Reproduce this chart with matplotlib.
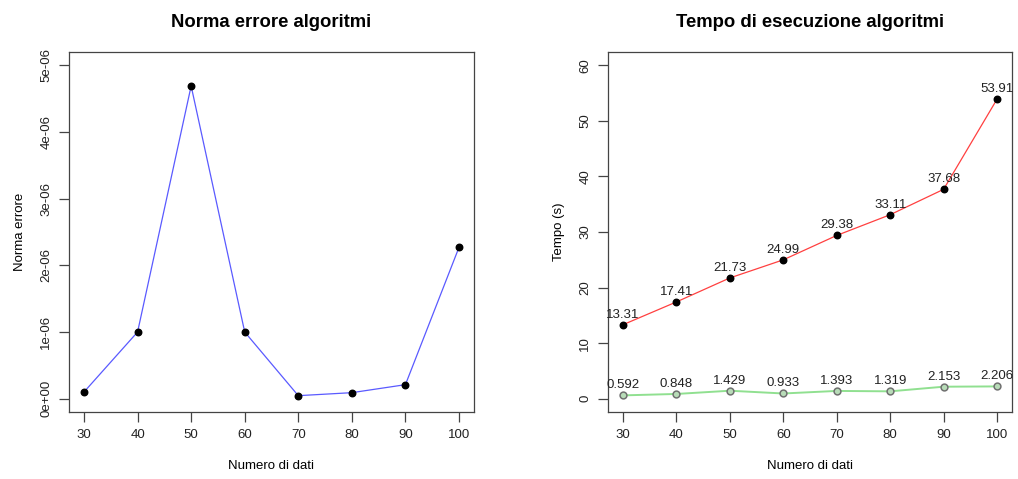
import matplotlib
matplotlib.use('Agg')
from matplotlib import pyplot as plt

plt.rcParams['font.family'] = ['Liberation Sans', 'DejaVu Sans']

n_dati = [30, 40, 50, 60, 70, 80, 90, 100]
norma_errore = [1.0e-7, 1.0e-6, 4.69e-6, 1.0e-6, 4.5e-8, 9.0e-8, 2.1e-7, 2.27e-6]
tempo_lento = [13.31, 17.41, 21.73, 24.99, 29.38, 33.11, 37.68, 53.91]
tempo_veloce = [0.592, 0.848, 1.429, 0.933, 1.393, 1.319, 2.153, 2.206]
err_ticks = [0, 1e-6, 2e-6, 3e-6, 4e-6, 5e-6]
err_labels = ['0e+00', '1e-06', '2e-06', '3e-06', '4e-06', '5e-06']
tempo_ticks = [0, 10, 20, 30, 40, 50, 60]


def r_lim(lo, hi):
    d = (hi - lo) * 0.04
    return lo - d, hi + d


def r_style(ax):
    for s in ax.spines.values():
        s.set_color('#444444')
        s.set_linewidth(0.9)
    ax.tick_params(direction='out', length=7, width=0.9, color='#444444',
                   labelsize=9.5, labelcolor='#222222', pad=5)
    ax.set_xlim(*r_lim(30, 100))
    ax.set_xticks(n_dati)


fig = plt.figure(figsize=(10.18, 4.79), dpi=100)
W, H = 1018, 479

ax1 = fig.add_axes([69 / W, 1 - 412 / H, (474 - 69) / W, (412 - 52) / H])
ax1.plot(n_dati, norma_errore, color='#5a5aff', linewidth=0.9, zorder=2)
ax1.scatter(n_dati, norma_errore, s=22, color='black', zorder=3)
r_style(ax1)
ax1.set_ylim(*r_lim(0, 5e-6))
ax1.set_yticks(err_ticks)
ax1.set_yticklabels(err_labels, rotation=90, va='center')
ax1.set_title('Norma errore algoritmi', fontsize=13.3, fontweight='bold', pad=18)
ax1.set_xlabel('Numero di dati', fontsize=9.5, labelpad=14)
ax1.set_ylabel('Norma errore', fontsize=9.5, labelpad=10)

ax2 = fig.add_axes([608 / W, 1 - 412 / H, (1012 - 608) / W, (412 - 52) / H])
ax2.plot(n_dati, tempo_lento, color='#ff4040', linewidth=0.9, zorder=2)
ax2.scatter(n_dati, tempo_lento, s=22, color='black', zorder=3)
ax2.plot(n_dati, tempo_veloce, color='#90e090', linewidth=1.4, zorder=2)
ax2.scatter(n_dati, tempo_veloce, s=24, facecolor='#b8dcb8', edgecolor='#707070',
            linewidth=1.1, zorder=3)
for x, y in zip(n_dati, tempo_lento):
    ax2.annotate(f'{y:g}', (x, y), xytext=(0, 3), textcoords='offset points',
                 ha='center', va='bottom', fontsize=9.5, color='#222222',
                 annotation_clip=False)
for x, y in zip(n_dati, tempo_veloce):
    ax2.annotate(f'{y:g}', (x, y), xytext=(0, 3), textcoords='offset points',
                 ha='center', va='bottom', fontsize=9.5, color='#222222',
                 annotation_clip=False)
r_style(ax2)
ax2.set_ylim(*r_lim(0, 60))
ax2.set_yticks(tempo_ticks)
ax2.set_yticklabels([str(t) for t in tempo_ticks], rotation=90, va='center')
ax2.set_title('Tempo di esecuzione algoritmi', fontsize=13.3, fontweight='bold', pad=18)
ax2.set_xlabel('Numero di dati', fontsize=9.5, labelpad=14)
ax2.set_ylabel('Tempo (s)', fontsize=9.5, labelpad=10)

fig.savefig('out.png', dpi=100)
